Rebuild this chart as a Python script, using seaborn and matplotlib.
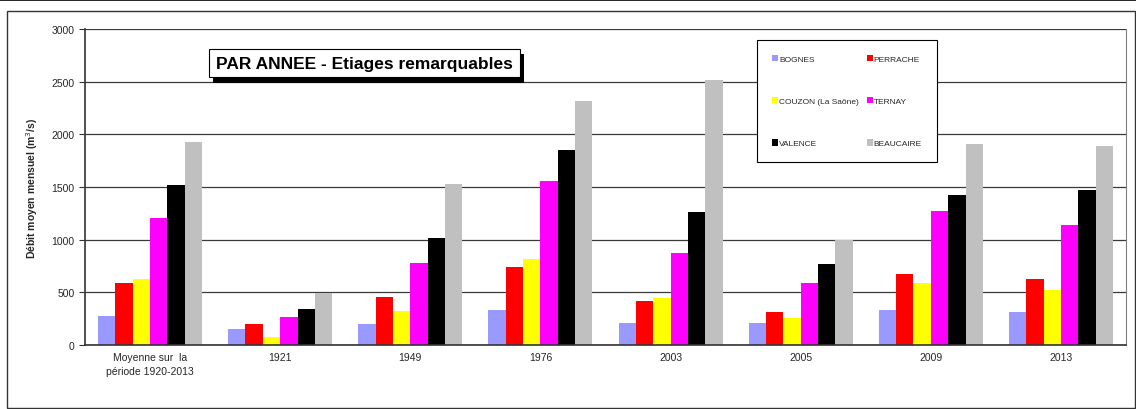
import pandas as pd
import numpy as np
import matplotlib.pyplot as plt
import seaborn as sns
from matplotlib.patches import Rectangle
from matplotlib.lines import Line2D
import matplotlib.patheffects as pe

# data
periods = ["Moyenne sur  la\npériode 1920-2013", "1921", "1949", "1976",
           "2003", "2005", "2009", "2013"]
stations = ["BOGNES", "PERRACHE", "COUZON (La Saône)", "TERNAY",
            "VALENCE", "BEAUCAIRE"]
bognes = [275, 155, 195, 335, 205, 205, 335, 315]
perrache = [585, 195, 455, 745, 415, 315, 675, 625]
couzon = [630, 75, 325, 815, 445, 255, 585, 520]
ternay = [1205, 265, 775, 1555, 875, 585, 1275, 1135]
valence = [1515, 345, 1015, 1855, 1265, 765, 1425, 1475]
beaucaire = [1925, 490, 1525, 2315, 2515, 1000, 1905, 1885]
colors = ["#9999FF", "#FF0000", "#FFFF00", "#FF00FF", "#000000", "#C0C0C0"]

series = [bognes, perrache, couzon, ternay, valence, beaucaire]
rows = []
for st, vals in zip(stations, series):
    for p, v in zip(periods, vals):
        rows.append({"Période": p, "Station": st, "Débit": v})
df = pd.DataFrame(rows)

sns.set_style("white")
plt.rcParams['font.family'] = ['Liberation Sans', 'DejaVu Sans']

fig = plt.figure(figsize=(11.36, 4.10), dpi=100)
ax = fig.add_axes([85 / 1136, 1 - 346 / 410, (1126 - 85) / 1136, (346 - 30) / 410])

sns.barplot(data=df, x="Période", y="Débit", hue="Station", order=periods,
            hue_order=stations, palette=colors, width=0.8, saturation=1, ax=ax,
            edgecolor="none", linewidth=0, legend=False)

ax.set_ylim(0, 3000)
ax.set_xlim(-0.5, len(periods) - 0.5)
ax.set_yticks(np.arange(0, 3001, 500))
ax.yaxis.grid(True, color="#3a3a3a", linewidth=0.9)
ax.set_axisbelow(True)
ax.set_xlabel("")
ax.set_ylabel("Débit moyen mensuel (m$^3$/s)", fontsize=7.5, fontweight="bold", labelpad=8)
ax.tick_params(axis="x", which="major", length=0, labelsize=7.5, pad=5)
ax.set_xticks(np.arange(-0.5, len(periods), 1), minor=True)
ax.tick_params(axis="x", which="minor", length=4, direction="out", color="#333333")
ax.tick_params(axis="y", length=4, direction="out", labelsize=7.5, color="#333333", left=True)
for lab in ax.get_xticklabels():
    lab.set_linespacing(1.5)

for side in ["left", "bottom"]:
    ax.spines[side].set_color("#333333")
    ax.spines[side].set_linewidth(1.2)
ax.spines["right"].set_color("#808080")
ax.spines["top"].set_visible(False)

# legend, filled column by column
handles = [Rectangle((0, 0), 1, 1, facecolor=c, edgecolor="none") for c in colors]
order = [0, 2, 4, 1, 3, 5]
leg = ax.legend([handles[i] for i in order], [stations[i] for i in order], ncol=2,
                loc="upper left", bbox_to_anchor=((753 - 85) / 1041, 1 - 7 / 316),
                fontsize=6, frameon=True, fancybox=False, edgecolor="black",
                handlelength=0.75, handleheight=0.75, handletextpad=0.1,
                labelspacing=4.1, columnspacing=0.9, borderpad=1.8,
                framealpha=1)
leg.get_frame().set_linewidth(0.8)

# title box with a drop shadow
title = fig.text(216 / 1136, 1 - 64 / 410, "PAR ANNEE - Etiages remarquables",
                 fontsize=12.5, fontweight="bold", color="black", va="center", ha="left",
                 bbox=dict(boxstyle="square,pad=0.4", facecolor="white", edgecolor="black",
                           linewidth=0.8))
title.get_bbox_patch().set_path_effects([
    pe.SimplePatchShadow(offset=(3, -4), shadow_rgbFace="black", alpha=1),
    pe.Normal()])

# outer frame and top rule
fig.patches.append(Rectangle((7 / 1136, 1 / 410), 1128 / 1136, 397 / 410,
                             transform=fig.transFigure, fill=False,
                             edgecolor="#333333", linewidth=1))
fig.lines.append(Line2D([0, 1], [1 - 1 / 410, 1 - 1 / 410], transform=fig.transFigure,
                        color="black", linewidth=1.2))

fig.savefig("out.png", dpi=100)
